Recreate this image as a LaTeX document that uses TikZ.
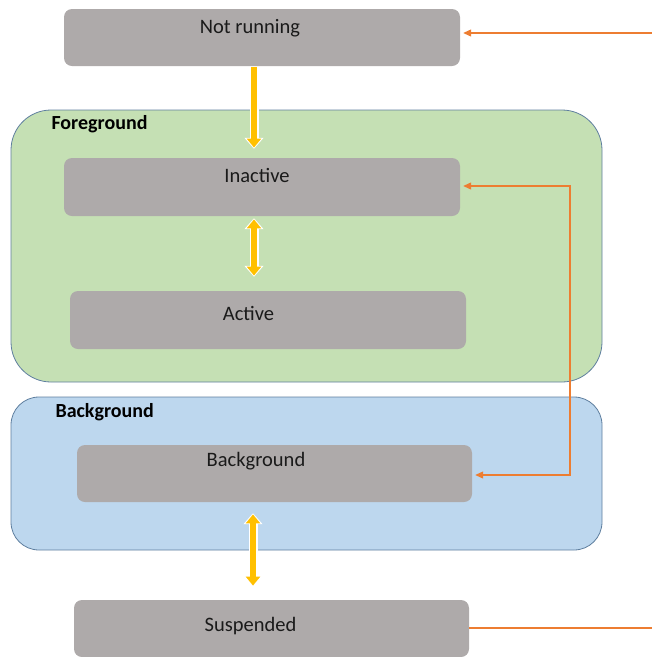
\documentclass[tikz,border=0pt]{standalone}
\usepackage{fontspec}
\setmainfont{Carlito}
\usetikzlibrary{arrows.meta,calc}
\definecolor{boxgray}{HTML}{AEAAAA}
\definecolor{fggreen}{HTML}{C5E0B4}
\definecolor{bgblue}{HTML}{BDD7EE}
\definecolor{frame}{HTML}{5F7F9F}
\definecolor{orangec}{HTML}{ED7D31}
\definecolor{yellowc}{HTML}{FFC000}
\definecolor{textc}{HTML}{1A1A1A}
\begin{document}
\begin{tikzpicture}[x=1pt,y=-1pt,
  font=\fontsize{20.5}{24}\selectfont, text=textc,
  state/.style={fill=boxgray, rounded corners=8pt, minimum width=396pt,
    minimum height=58pt, inner sep=0pt},
  group/.style={draw=frame, line width=0.8pt, inner sep=0pt, minimum width=591pt},
  grouplabel/.style={anchor=west, text=black, font=\fontsize{20}{24}\selectfont\bfseries},
  oline/.style={draw=orangec, line width=1.1pt},
  oarrow/.style={oline, arrows={-Triangle[width=7pt,length=8pt]}, shorten >=3pt},
  oboth/.style={oline, arrows={Triangle[width=7pt,length=8pt]-Triangle[width=7pt,length=8pt]},
    shorten >=3pt, shorten <=3pt},
  yarrow/.style={draw=yellowc, line width=6.5pt,
    arrows={-Triangle[width=14pt,length=9pt]}, shorten >=1.2pt,
    preaction={draw=white, line width=9pt, shorten >=0pt,
      arrows={-Triangle[width=18.5pt,length=11pt]}}},
  yboth/.style={draw=yellowc, line width=6.5pt,
    arrows={Triangle[width=14pt,length=9pt]-Triangle[width=14pt,length=9pt]},
    shorten >=1.2pt, shorten <=1.2pt,
    preaction={draw=white, line width=9pt, shorten >=0pt, shorten <=0pt,
      arrows={Triangle[width=18.5pt,length=11pt]-Triangle[width=18.5pt,length=11pt]}}}
]
\useasboundingbox (0,0) rectangle (652,657);

% grouping panels
\node[group, fill=fggreen, rounded corners=40pt, minimum height=272pt] (fg) at (306.5,246) {};
\node[group, fill=bgblue, rounded corners=28pt, minimum height=153pt] (bg) at (306.5,473.5) {};
\node[grouplabel] (fglab) at (48,124) {Foreground};
\node[grouplabel] (bglab) at (52,412) {Background};

% application states
\node[state, minimum height=57pt, label={[xshift=-12pt,yshift=9.5pt]center:Not running}] (nr) at (262,37.5) {};
\node[state, label={[xshift=-5pt,yshift=12pt]center:Inactive}] (inact) at (262,187) {};
\node[state, label={[xshift=-19.5pt,yshift=7pt]center:Active}] (act) at (268,320) {};
\node[state, minimum width=395pt, minimum height=57pt, label={[xshift=-18.5pt,yshift=12pt]center:Background}] (bgbox) at (274.5,473.5) {};
\node[state, minimum width=395pt, minimum height=57pt, label={[xshift=-21pt,yshift=2.5pt]center:Suspended}] (susp) at (271.5,628.5) {};

% transitions between states
\draw[yarrow] ($(nr.south)+(-8,1)$) -- ($(inact.north)+(-8,-9)$);
\draw[yboth] ($(inact.south)+(-8,2)$) -- ($(act.north)+(-14,-14)$);
\draw[yboth] ($(bgbox.south)+(-21.5,11)$) -- ($(susp.north)+(-18.5,-13)$);

% external links
\coordinate (in1) at (652,33);
\coordinate (out1) at (652,628);
\coordinate (c1) at (570,186);
\coordinate (c2) at (570,475);
\draw[oarrow] (in1) -- (nr.east |- in1);
\draw[oline] (susp.east |- out1) -- (out1);
\draw[oboth] (inact.east |- c1) -- (c1) -- (c2) -- (bgbox.east |- c2);
\end{tikzpicture}
\end{document}
